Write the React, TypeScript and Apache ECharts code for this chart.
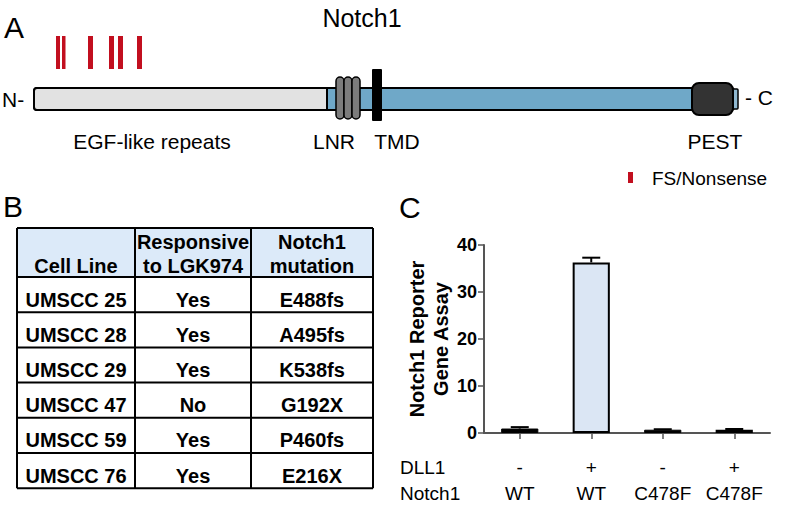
import React, { useEffect, useRef } from "react";
import * as echarts from "echarts";

// ---- Panel C data ----
const dll1Labels = ["-", "+", "-", "+"];
const notch1Labels = ["WT", "WT", "C478F", "C478F"];
const reporterValues = [0.95, 36.3, 0.7, 0.7];
const reporterErrors = [0.3, 1.0, 0.1, 0.15];
const yTicks = [0, 10, 20, 30, 40];

// ---- Panel B data ----
const tableHeader = [["Cell Line"], ["Responsive", "to LGK974"], ["Notch1", "mutation"]];
const cellLines = ["UMSCC 25", "UMSCC 28", "UMSCC 29", "UMSCC 47", "UMSCC 59", "UMSCC 76"];
const responsive = ["Yes", "Yes", "Yes", "No", "Yes", "Yes"];
const mutations = ["E488fs", "A495fs", "K538fs", "G192X", "P460fs", "E216X"];

const FONT = "'Liberation Sans', Arial, Helvetica, sans-serif";

function txt(text: string, x: number, y: number, size: number, opts: any = {}) {
  const align = opts.align || "left";
  const va = opts.va || "middle";
  return {
    type: "text",
    x,
    y,
    silent: true,
    style: {
      text,
      fontSize: size,
      fontFamily: FONT,
      fontWeight: opts.bold ? "bold" : "normal",
      fill: opts.fill || "#000",
      align,
      verticalAlign: va,
      textAlign: align,
      textVerticalAlign: va,
    },
  };
}

function rect(x: number, y: number, w: number, h: number, style: any, r: any = 0) {
  return { type: "rect", silent: true, shape: { x, y, width: w, height: h, r }, style };
}

function buildPanelA(): any[] {
  const els: any[] = [];
  els.push(txt("A", 4, 27, 30));
  els.push(txt("Notch1", 362, 18, 25, { align: "center" }));
  // mutation ticks (FS/Nonsense)
  const marks = [[56, 4], [62, 3.5], [88, 5], [109, 5], [118, 5], [137, 5]];
  marks.forEach(([x, w]) => els.push(rect(x, 36, w, 33, { fill: "#c20f1f" })));
  // protein body
  els.push(rect(34, 88, 700, 22, { fill: "#6fa8c8", stroke: "#000", lineWidth: 2 }, 3));
  els.push(rect(34, 88, 293, 22, { fill: "#e2e2e2", stroke: "#000", lineWidth: 2 }, [3, 0, 0, 3]));
  // stub end
  els.push(rect(731, 89, 7, 20, { fill: "#8fb8d0", stroke: "#000", lineWidth: 1.5 }, 1));
  // LNR
  [336, 344, 352].forEach((x) =>
    els.push(rect(x, 77, 8, 42, { fill: "#7c7c7c", stroke: "#000", lineWidth: 1.5 }, 4))
  );
  // TMD
  els.push(rect(372, 69, 10, 52, { fill: "#000" }, 1));
  // PEST
  els.push(rect(692, 83, 41, 32, { fill: "#333", stroke: "#000", lineWidth: 2 }, 7));
  // labels
  els.push(txt("N-", 2, 99, 21));
  els.push(txt("- C", 745, 97, 21));
  els.push(txt("EGF-like repeats", 152, 141, 21, { align: "center" }));
  els.push(txt("LNR", 334, 141, 21, { align: "center" }));
  els.push(txt("TMD", 397, 141, 21, { align: "center" }));
  els.push(txt("PEST", 715, 141, 21, { align: "center" }));
  // legend
  els.push(rect(628, 172, 5, 11, { fill: "#c20f1f" }));
  els.push(txt("FS/Nonsense", 652, 178, 19));
  return els;
}

function buildPanelB(): any[] {
  const els: any[] = [];
  els.push(txt("B", 3, 206, 30));
  const colX = [17, 135, 251, 373];
  const top = 228;
  const headerH = 49;
  const rowH = 35.2;
  const bottom = top + headerH + rowH * cellLines.length;
  els.push(rect(colX[0], top, colX[3] - colX[0], bottom - top, { fill: "#fff" }));
  els.push(rect(colX[0], top, colX[3] - colX[0], headerH, { fill: "#dceaf9" }));
  const lineStyle = { stroke: "#000", lineWidth: 2 };
  for (let i = 0; i <= cellLines.length; i++) {
    const y = top + headerH + rowH * i;
    els.push({ type: "line", silent: true, shape: { x1: colX[0], y1: y, x2: colX[3], y2: y }, style: lineStyle });
  }
  els.push({ type: "line", silent: true, shape: { x1: colX[0], y1: top, x2: colX[3], y2: top }, style: lineStyle });
  colX.forEach((x) =>
    els.push({ type: "line", silent: true, shape: { x1: x, y1: top, x2: x, y2: bottom }, style: lineStyle })
  );
  tableHeader.forEach((lines, c) => {
    const cx = (colX[c] + colX[c + 1]) / 2;
    const n = lines.length;
    lines.forEach((t, k) => {
      const y = 266 - (n - 1 - k) * 24;
      els.push(txt(t, cx, y, 20, { align: "center", bold: true }));
    });
  });
  const cols = [cellLines, responsive, mutations];
  cols.forEach((col, c) => {
    const cx = (colX[c] + colX[c + 1]) / 2;
    col.forEach((t, r) => {
      const y = top + headerH + rowH * r + rowH / 2 + 5;
      els.push(txt(t, cx, y, 20, { align: "center", bold: true }));
    });
  });
  return els;
}

export default function App() {
  const ref = useRef<HTMLDivElement>(null);
  useEffect(() => {
    document.body.style.margin = "0";
    if (!ref.current) return;
    const chart = echarts.init(ref.current, undefined, { renderer: "svg" });
    const cats = dll1Labels.map((_, i) => String(i));
    const option: any = {
      animation: false,
      backgroundColor: "#fff",
      grid: { left: 484, right: 26, top: 245, bottom: 74, containLabel: false },
      xAxis: {
        type: "category",
        data: cats,
        axisLine: { lineStyle: { color: "#555", width: 2 } },
        axisTick: { show: true, alignWithLabel: true, length: 6, lineStyle: { color: "#555", width: 1.5 } },
        axisLabel: {
          margin: 21,
          interval: 0,
          formatter: (v: string) => {
            const i = Number(v);
            return `{a|${dll1Labels[i]}}\n{b|${notch1Labels[i]}}`;
          },
          rich: {
            a: { fontSize: 19, fontFamily: FONT, color: "#000", lineHeight: 26 },
            b: { fontSize: 19, fontFamily: FONT, color: "#000", lineHeight: 26 },
          },
        },
      },
      yAxis: {
        type: "value",
        min: 0,
        max: 40,
        interval: 10,
        name: "Notch1 Reporter\nGene Assay",
        nameLocation: "middle",
        nameRotate: 90,
        nameGap: 30,
        nameTextStyle: { fontSize: 20, fontWeight: "bold", fontFamily: FONT, color: "#000", lineHeight: 24 },
        axisLine: { show: true, lineStyle: { color: "#555", width: 2 } },
        axisTick: { show: true, length: 6, lineStyle: { color: "#555", width: 1.5 } },
        axisLabel: {
          margin: 7,
          fontSize: 18,
          fontWeight: "bold",
          fontFamily: FONT,
          color: "#000",
          formatter: (v: number) => (yTicks.includes(v) ? String(v) : ""),
        },
        splitLine: { show: false },
      },
      series: [
        {
          type: "bar",
          barWidth: "52%",
          data: reporterValues.map((v, i) => ({
            value: v,
            itemStyle:
              dll1Labels[i] === "+"
                ? { color: "#dbe6f4", borderColor: "#000", borderWidth: 2 }
                : { color: "#000", borderColor: "#000", borderWidth: 1 },
          })),
          z: 2,
        },
        {
          type: "custom",
          z: 3,
          data: reporterValues.map((v, i) => [i, v, reporterErrors[i]]),
          renderItem: (params: any, api: any) => {
            const idx = api.value(0);
            const v = api.value(1);
            const e = api.value(2);
            const base = api.coord([idx, v]);
            const top = api.coord([idx, v + e]);
            const hw = 9;
            return {
              type: "group",
              children: [
                { type: "line", shape: { x1: base[0], y1: base[1], x2: top[0], y2: top[1] }, style: { stroke: "#000", lineWidth: 2 } },
                { type: "line", shape: { x1: top[0] - hw, y1: top[1], x2: top[0] + hw, y2: top[1] }, style: { stroke: "#000", lineWidth: 2 } },
              ],
            };
          },
        },
      ],
      graphic: [
        ...buildPanelA(),
        ...buildPanelB(),
        txt("C", 399, 207, 30),
        txt("DLL1", 400, 467, 19),
        txt("Notch1", 400, 493, 19),
      ],
    };
    chart.setOption(option);
    return () => chart.dispose();
  }, []);
  return <div ref={ref} style={{ width: 796, height: 507 }} />;
}
